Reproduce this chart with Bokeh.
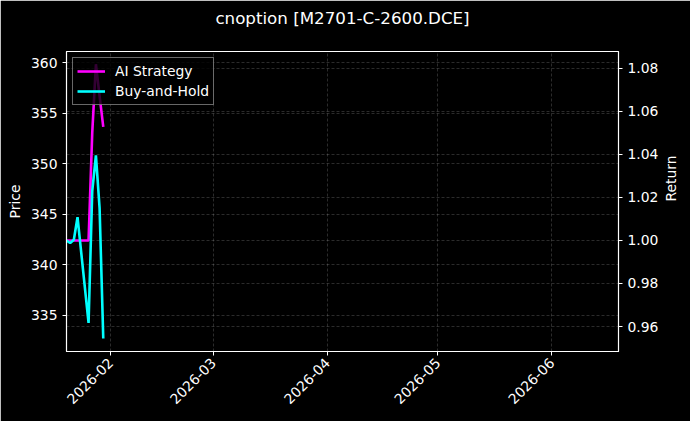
import math
import pandas as pd
from bokeh.plotting import figure
from bokeh.models import (ColumnDataSource, Range1d, LinearAxis, FixedTicker, Title,
                          DatetimeTickFormatter, NumeralTickFormatter, Grid, Legend, LegendItem)
from bokeh.embed import file_html
from bokeh.resources import INLINE

# data
dates = ["2026-01-20", "2026-01-21", "2026-01-22", "2026-01-23", "2026-01-26",
         "2026-01-27", "2026-01-28", "2026-01-29", "2026-01-30"]
ai_strategy = [1.000, 1.000, 1.000, 1.000, 1.000, 1.050, 1.0819, 1.0671, 1.0528]
buy_and_hold = [1.000, 0.9988, 1.0003, 1.0108, 0.9617, 1.0229, 1.0395, 1.0150, 0.9544]

month_ticks = ["2026-02-01", "2026-03-01", "2026-04-01", "2026-05-01", "2026-06-01"]
price_ticks = [335, 340, 345, 350, 355, 360]
return_ticks = [0.96, 0.98, 1.00, 1.02, 1.04, 1.06, 1.08]

FONT = "DejaVu Sans"

src = ColumnDataSource(dict(date=pd.to_datetime(dates), ai=ai_strategy, bh=buy_and_hold))

def ms(d):
    return pd.Timestamp(d).timestamp() * 1000

p = figure(width=690, height=421, x_axis_type="datetime", title_location=None,
           x_range=Range1d(ms("2026-01-20"), ms("2026-06-19 03:00")),
           y_range=Range1d(331.44, 361.09),
           output_backend="svg", toolbar_location=None,
           min_border_left=66, min_border_right=69, min_border_top=51, min_border_bottom=70)
p.background_fill_color = "black"
p.border_fill_color = "black"
p.outline_line_color = "white"
p.outline_line_width = 1.2

# blank spacer next to the frame, then the title above it
spacer = Title(text=".", text_color="black", text_font_size="10px", standoff=14)
p.add_layout(spacer, "above")
title = Title(text="cnoption [M2701-C-2600.DCE]", align="center", text_color="white",
              text_font=FONT, text_font_size="16.7px", text_font_style="normal", standoff=0)
p.add_layout(title, "above")

p.extra_y_ranges = {"ret": Range1d(0.9484, 1.0878)}
right = LinearAxis(y_range_name="ret", axis_label="Return")
p.add_layout(right, "right")
right.axis_label_orientation = math.pi / 2
right.axis_label_standoff = 10

p.xaxis.ticker = FixedTicker(ticks=[ms(d) for d in month_ticks])
p.xaxis.formatter = DatetimeTickFormatter(days="%Y-%m", months="%Y-%m", years="%Y-%m")
p.xaxis.major_label_orientation = math.pi / 4
p.yaxis[0].ticker = FixedTicker(ticks=price_ticks)
p.yaxis[0].axis_label = "Price"
right.ticker = FixedTicker(ticks=return_ticks)
right.formatter = NumeralTickFormatter(format="0.00")

for ax in p.xaxis + p.yaxis:
    ax.axis_line_color = "white"
    ax.major_tick_line_color = "white"
    ax.major_tick_in = 0
    ax.major_tick_out = 4
    ax.minor_tick_line_color = None
    ax.major_label_text_color = "white"
    ax.major_label_text_font = FONT
    ax.major_label_text_font_size = "13.9px"
    ax.axis_label_text_color = "white"
    ax.axis_label_text_font = FONT
    ax.axis_label_text_font_size = "13.9px"
    ax.axis_label_text_font_style = "normal"

p.add_layout(Grid(dimension=1, ticker=right.ticker, y_range_name="ret"))
for g in p.grid:
    g.grid_line_color = "#b0b0b0"
    g.grid_line_alpha = 0.35
    g.grid_line_dash = "3 2"
    g.grid_line_width = 0.7

r_ai = p.line("date", "ai", source=src, y_range_name="ret", color="#ff00ff", line_width=2.6)
r_bh = p.line("date", "bh", source=src, y_range_name="ret", color="#00ffff", line_width=2.6)

legend = Legend(items=[LegendItem(label="AI Strategy", renderers=[r_ai]),
                       LegendItem(label="Buy-and-Hold", renderers=[r_bh])],
                location="top_left")
legend.margin = 6
legend.padding = 4
legend.spacing = 2
legend.glyph_width = 28
legend.glyph_height = 18
legend.label_height = 18
legend.label_standoff = 10
legend.label_text_color = "white"
legend.label_text_font = FONT
legend.label_text_font_size = "13.9px"
legend.background_fill_color = "black"
legend.background_fill_alpha = 0.8
legend.border_line_color = "#d0d0d0"
legend.border_line_width = 1
p.add_layout(legend)

open("out.html", "w").write(file_html(p, INLINE))
